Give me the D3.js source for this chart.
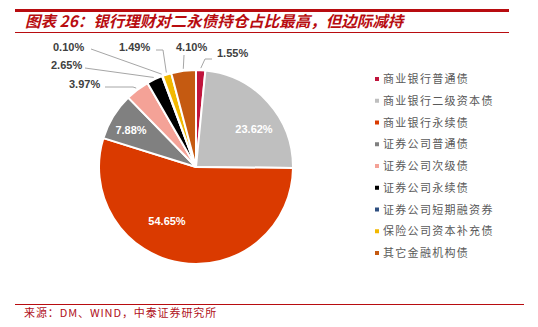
<!DOCTYPE html>
<html>
<head>
<meta charset="utf-8">
<script src="https://cdn.jsdelivr.net/npm/d3@7"></script>
<style>
  html, body { margin: 0; padding: 0; background: #fff; }
  svg { display: block; }
</style>
</head>
<body>
<svg id="chart" width="538" height="327"></svg>
<script>
// Holdings share by bond type (%), clockwise from 12 o'clock
const categories = [
  "商业银行普通债", "商业银行二级资本债", "商业银行永续债",
  "证券公司普通债", "证券公司次级债", "证券公司永续债",
  "证券公司短期融资券", "保险公司资本补充债", "其它金融机构债"
];
const shares = [1.55, 23.62, 54.65, 7.88, 3.97, 2.65, 0.10, 1.49, 4.10];
const colors = ["#C0143C", "#BFBFBF", "#DA3A00", "#808080", "#F4A297",
                "#000000", "#2E4F80", "#F2B800", "#C55A11"];

const titleText = "图表 26：银行理财对二永债持仓占比最高，但边际减持";
const sourceText = "来源：DM、WIND，中泰证券研究所";

const svg = d3.select("#chart");
const RED = "#B80C10";

// Header rules and title
svg.append("line").attr("x1", 15).attr("x2", 509).attr("y1", 10.5).attr("y2", 10.5)
  .attr("stroke", RED).attr("stroke-width", 3);
svg.append("line").attr("x1", 15).attr("x2", 509).attr("y1", 32.5).attr("y2", 32.5)
  .attr("stroke", RED).attr("stroke-width", 1.2);
svg.append("text").attr("x", 25).attr("y", 27)
  .attr("font-family", "'Noto Sans CJK SC', sans-serif")
  .attr("font-size", 15.5).attr("font-weight", 700).attr("font-style", "italic")
  .attr("fill", RED).text(titleText);

// Footer rule and source
svg.append("line").attr("x1", 15).attr("x2", 524).attr("y1", 304.5).attr("y2", 304.5)
  .attr("stroke", RED).attr("stroke-width", 1.2);
svg.append("text").attr("x", 24).attr("y", 316.5)
  .attr("font-family", "'Noto Sans CJK SC', sans-serif")
  .attr("font-size", 11).attr("letter-spacing", 0.9)
  .attr("fill", "#B0101A").text(sourceText);

// Pie
const cx = 196, cy = 167, R = 97;
const data = categories.map((c, i) => ({ name: c, value: shares[i], color: colors[i] }));
const pie = d3.pie().value(d => d.value).sort(null);
const arcs = pie(data);
const arc = d3.arc().innerRadius(0).outerRadius(R);
const edgeArc = d3.arc().innerRadius(R + 2).outerRadius(R + 2);

const g = svg.append("g").attr("transform", `translate(${cx},${cy})`);
g.selectAll("path.slice").data(arcs).join("path")
  .attr("class", "slice")
  .attr("d", arc)
  .attr("fill", d => d.data.color)
  .attr("stroke", "#fff").attr("stroke-width", 2).attr("stroke-linejoin", "round");

// Label placement (offsets from pie centre): inside labels centred, outside ones with leaders
const labelLayout = {
  0: { x: 21, y: -110, anchor: "start", line: [[16, -108], [9, -108]] },
  1: { x: 58, y: -34, anchor: "middle", inside: true },
  2: { x: -29, y: 58, anchor: "middle", inside: true },
  3: { x: -65, y: -33, anchor: "middle", inside: true },
  4: { x: -127, y: -79, anchor: "start", line: [[-91, -80], [-63, -80]] },
  5: { x: -145, y: -98, anchor: "start", line: [[-111, -99]] },
  6: { x: -143, y: -116, anchor: "start", line: [[-105, -118]] },
  7: { x: -77, y: -116, anchor: "start", line: [[-40, -117], [-33, -117]] },
  8: { x: -20, y: -116, anchor: "start", line: [[-12, -112]] }
};

const lineGen = d3.line();
arcs.forEach((a, i) => {
  const L = labelLayout[i];
  if (!L.inside) {
    const pts = L.line.concat([edgeArc.centroid(a)]);
    g.append("path").attr("d", lineGen(pts))
      .attr("fill", "none").attr("stroke", "#A6A6A6").attr("stroke-width", 1);
  }
  g.append("text")
    .attr("x", L.x).attr("y", L.y)
    .attr("text-anchor", L.anchor)
    .attr("font-family", "'Liberation Sans', Arial, sans-serif")
    .attr("font-size", 11).attr("font-weight", 700)
    .attr("fill", L.inside ? "#FFFFFF" : "#404040")
    .text(d3.format(".2f")(a.data.value) + "%");
});

// Legend
const legendY = d3.scalePoint().domain(categories).range([79, 253]);
const lg = svg.append("g");
categories.forEach((c, i) => {
  const y = legendY(c);
  lg.append("rect").attr("x", 375).attr("y", y - 2).attr("width", 4).attr("height", 4)
    .attr("fill", colors[i]);
  lg.append("text").attr("x", 383).attr("y", y + 4)
    .attr("font-family", "'Noto Sans CJK SC', sans-serif")
    .attr("font-size", 11).attr("letter-spacing", 1.3)
    .attr("fill", "#595959").text(c);
});
</script>
</body>
</html>
